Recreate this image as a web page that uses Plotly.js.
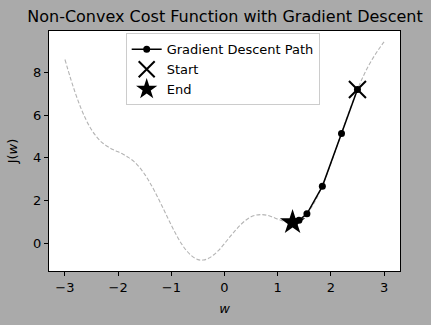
<!DOCTYPE html>
<html>
<head>
<meta charset="utf-8">
<script src="https://cdn.plot.ly/plotly-3.0.1.min.js"></script>
<style>html,body{margin:0;padding:0;background:#aaaaaa;}#chart{width:431px;height:325px;}</style>
</head>
<body>
<div id="chart"></div>
<script>
// Cost curve J(w)
const curveW = [-3.0,-2.9,-2.8,-2.7,-2.6,-2.5,-2.4,-2.3,-2.2,-2.1,-2.0,-1.9,-1.8,-1.7,-1.6,-1.5,-1.4,-1.3,-1.2,-1.1,-1.0,-0.9,-0.8,-0.7,-0.6,-0.5,-0.4,-0.3,-0.2,-0.1,0.0,0.1,0.2,0.3,0.4,0.5,0.6,0.7,0.8,0.9,1.0,1.1,1.2,1.3,1.4,1.5,1.6,1.7,1.8,1.9,2.0,2.1,2.2,2.3,2.4,2.5,2.6,2.7,2.8,2.9,3.0];
const curveJ = [8.59,7.75,6.99,6.32,5.76,5.31,4.97,4.71,4.53,4.39,4.28,4.16,4.01,3.82,3.56,3.23,2.83,2.38,1.88,1.37,0.86,0.38,-0.04,-0.37,-0.61,-0.75,-0.77,-0.69,-0.52,-0.29,0.0,0.31,0.60,0.87,1.09,1.25,1.33,1.35,1.32,1.24,1.14,1.05,1.00,1.00,1.09,1.27,1.56,1.96,2.47,3.06,3.72,4.43,5.15,5.87,6.55,7.19,7.76,8.26,8.69,9.07,9.41];
// Gradient descent path
const pathW = [2.50,2.20,1.84,1.55,1.40,1.33,1.30,1.28];
const pathJ = [7.19,5.14,2.67,1.39,1.09,1.02,1.00,0.99];
const startPt = {w: [2.50], j: [7.19]};
const endPt = {w: [1.28], j: [0.99]};
const legendNames = ["Gradient Descent Path", "Start", "End"];

const FONT = "DejaVu Sans, sans-serif";
const traces = [
  {x: curveW, y: curveJ, mode: "lines", line: {color: "#b4b4b4", width: 1.1, dash: "4px,2px", shape: "spline"}, showlegend: false, hoverinfo: "skip"},
  {x: pathW, y: pathJ, mode: "lines+markers", name: legendNames[0], line: {color: "black", width: 1.5}, marker: {color: "black", size: 7}},
  {x: startPt.w, y: startPt.j, mode: "markers", name: legendNames[1], marker: {symbol: "x-thin-open", size: 17, color: "black", line: {color: "black", width: 2}}},
  {x: endPt.w, y: endPt.j, mode: "markers", name: legendNames[2], marker: {symbol: "star", size: 19, color: "black", line: {width: 0}}}
];
const axisBase = {showline: true, mirror: true, linecolor: "black", linewidth: 1, ticks: "outside", ticklen: 4, tickwidth: 1, tickcolor: "black", showgrid: false, zeroline: false, tickfont: {size: 13, color: "black", family: FONT}};
const layout = {
  width: 431, height: 325,
  paper_bgcolor: "#aaaaaa", plot_bgcolor: "white",
  font: {family: FONT, color: "black"},
  margin: {l: 49, r: 31, t: 31, b: 54},
  title: {text: "Non-Convex Cost Function with Gradient Descent", font: {size: 16, family: FONT, color: "black"}, x: 0.522, xanchor: "center", y: 0.95, yanchor: "middle"},
  xaxis: Object.assign({}, axisBase, {range: [-3.3, 3.3], tickvals: [-3,-2,-1,0,1,2,3], ticktext: ["\u22123","\u22122","\u22121","0","1","2","3"], title: {text: "<i>w</i>", font: {size: 13, family: FONT}, standoff: 10}}),
  yaxis: Object.assign({}, axisBase, {range: [-1.28, 9.92], tickvals: [0,2,4,6,8], title: {text: "J(<i>w</i>)", font: {size: 13, family: FONT}, standoff: 12}}),
  legend: {x: 0.2185, y: 0.99, xanchor: "left", yanchor: "top", bgcolor: "white", bordercolor: "#cccccc", borderwidth: 1, font: {size: 13, family: FONT}, itemwidth: 30, tracegroupgap: 0}
};
Plotly.newPlot("chart", traces, layout, {displayModeBar: false, staticPlot: true});
</script>
</body>
</html>
